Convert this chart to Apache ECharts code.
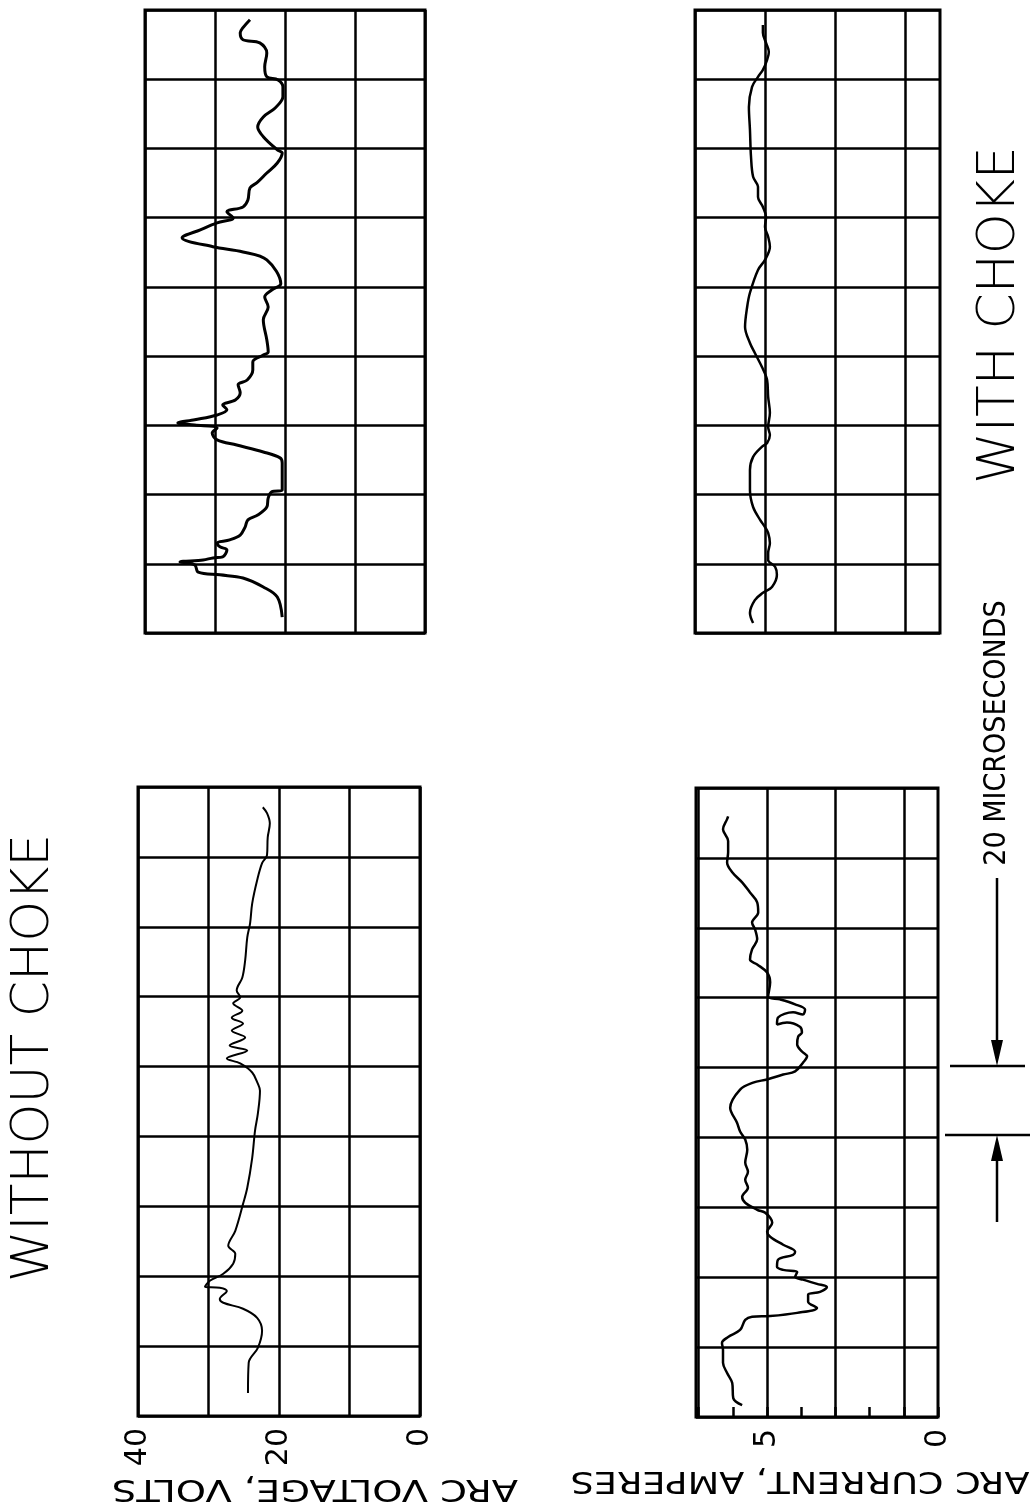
<!DOCTYPE html>
<html><head><meta charset="utf-8">
<script src="https://cdn.jsdelivr.net/npm/echarts@6/dist/echarts.min.js"></script>
<style>html,body{margin:0;padding:0;background:#fff}#c{width:1032px;height:1510px}</style>
</head><body><div id="c"></div>
<script>
// ---- data (time in microseconds along the trace, value at that time) ----
const voltNoChokeTime = [6.6,15.2,19.5,24.4,28.1,30.7,32.4,33.5,35.8,36.7,37.0,38.7,40.7,43.6,46.4,48.7,53.0,60.7,65.3,73.9,81.7,86.5,93.1,95.1,98.3,100.9,102.3,104.6,106.0,108.3,110.3,112.3,114.0,116.0,118.1,119.8,121.8,125.5,130.4,137.0,141.0,146.7,153.3,158.2,160.5,165.6,169.6,172.5,174.2];
const voltNoChokeVolts = [24.4,24.3,23.0,22.4,23.1,25.1,27.9,28.4,27.4,28.4,30.5,29.8,27.9,26.5,26.2,27.2,26.2,25.1,24.5,23.8,23.4,23.0,22.7,23.0,23.8,25.5,27.4,24.5,27.0,24.8,26.7,25.1,26.7,25.2,26.5,25.5,26.0,25.2,24.8,24.5,24.1,23.8,23.1,22.4,21.7,21.6,21.3,21.7,22.3];

const voltChokeTime = [4.6,10.4,13.3,15.9,16.8,17.6,19.7,20.5,21.1,21.7,22.0,24.0,24.9,26.0,26.9,28.3,30.6,32.7,34.1,36.4,39.0,40.8,41.3,44.2,49.1,50.6,52.3,54.3,55.8,57.8,59.2,60.1,60.7,61.6,63.0,64.5,65.9,67.3,69.4,71.7,73.1,76.0,78.3,80.3,81.2,84.7,90.5,94.2,97.1,99.1,100.9,107.8,110.1,111.6,114.2,116.5,118.5,119.9,121.7,123.1,125.1,128.6,130.1,132.9,135.8,138.7,139.6,143.4,146.2,149.1,151.7,154.9,157.8,159.8,160.7,163.6,167.6,170.5,171.4,173.4,174.9,177.2];
const voltChokeVolts = [20.4,21.1,23.1,26.0,29.3,32.4,32.9,35.0,31.7,30.3,28.9,28.3,29.3,29.7,27.9,26.4,25.7,25.3,23.9,22.6,22.4,21.9,20.4,20.4,20.4,20.7,23.1,26.9,29.7,30.4,29.7,32.9,35.3,32.9,29.7,28.3,28.9,27.1,26.4,26.7,25.4,24.6,24.6,23.1,22.4,22.6,23.1,22.4,22.9,21.9,20.6,22.6,26.0,30.3,34.7,32.1,29.7,27.4,28.3,26.0,25.3,25.0,24.0,22.6,21.1,20.4,21.1,23.1,23.9,23.1,21.4,20.3,20.3,21.0,22.6,22.9,22.6,23.6,26.0,26.4,26.0,25.0];

const currNoChokeTime = [3.4,5.4,9.7,12.6,15.5,19.2,21.2,22.9,24.9,27.8,28.7,28.9,29.8,31.2,33.0,35.0,35.8,37.2,38.1,39.3,40.1,41.5,42.1,43.0,45.0,46.4,47.3,49.3,51.6,53.0,55.6,57.0,58.5,59.3,61.3,63.0,65.6,67.9,70.2,72.8,76.5,79.4,81.7,84.2,88.5,93.7,95.7,96.6,98.0,98.9,101.4,103.2,104.6,106.6,108.9,110.0,111.7,112.9,112.3,114.3,115.8,115.2,116.6,118.1,119.5,120.3,124.4,127.2,129.5,130.9,133.8,136.7,139.5,141.5,144.4,147.3,150.1,153.0,155.9,158.7,161.6,164.8,168.2,171.1,171.9];
const currNoChokeAmps = [5.73,5.99,6.02,6.17,6.29,6.29,6.32,6.14,5.79,5.64,5.44,4.91,4.12,3.54,3.80,3.80,3.45,3.25,3.54,3.95,4.18,4.12,4.53,4.71,4.68,4.24,4.18,4.53,4.91,5.00,4.85,4.91,5.06,5.29,5.64,5.73,5.56,5.64,5.56,5.64,5.58,5.64,5.79,5.88,6.08,5.79,5.41,5.00,4.53,4.18,3.95,3.83,3.98,4.12,4.09,3.98,4.04,4.42,4.71,4.68,4.24,3.95,3.89,4.18,4.62,4.97,4.91,5.00,5.29,5.50,5.44,5.29,5.35,5.44,5.26,5.29,5.50,5.73,6.02,6.17,6.14,6.14,6.29,6.17,6.14];

const currChokeTime = [2.9,5.8,9.5,11.6,13.3,16.8,19.1,21.1,23.1,26.0,28.9,30.6,32.7,36.4,41.3,47.1,50.9,53.8,54.9,57.2,59.5,63.6,68.2,73.1,76.9,80.9,83.8,88.4,94.2,98.3,104.9,107.8,111.6,114.5,117.3,120.2,123.1,126.0,128.9,131.8,137.6,145.4,152.0,157.8,160.7,162.7,165.6,167.9,170.5,173.4,175.7];
const currChokeAmps = [5.34,5.43,5.29,5.06,4.80,4.66,4.71,4.91,4.91,4.86,4.91,5.00,5.14,5.34,5.43,5.43,5.34,5.09,4.94,4.86,4.91,4.86,4.91,4.94,5.09,5.29,5.43,5.57,5.51,5.43,5.20,5.00,4.86,4.91,5.00,4.97,5.06,5.20,5.20,5.34,5.40,5.43,5.46,5.37,5.20,5.06,4.94,4.89,4.97,5.06,5.06];

const voltTickLabels = [0, 20, 40];
const currTickLabels = [0, 5];

const zip = (vals, times) => vals.map((v, i) => [v, times[i]]);

const FONT = '"DejaVu Sans", "Liberation Sans", sans-serif';
const gridLine = { show: true, lineStyle: { color: '#000', width: 2.5 } };

function timeAxis(gi) {
  return { type: 'value', gridIndex: gi, min: 0, max: 180, interval: 20,
    axisLine: { show: false }, axisTick: { show: false }, axisLabel: { show: false },
    splitLine: gridLine };
}
function voltAxis(gi, labels) {
  return { type: 'value', gridIndex: gi, min: 0, max: 40, interval: 10, inverse: true,
    axisLine: { show: false }, axisTick: { show: false },
    axisLabel: { show: labels, rotate: 90, margin: 12, fontSize: 30, color: '#000', fontFamily: FONT,
      formatter: v => voltTickLabels.includes(v) ? String(v) : '' },
    splitLine: gridLine };
}
function currAxis(gi, max, labels) {
  return { type: 'value', gridIndex: gi, min: 0, max: max, interval: 1, inverse: true,
    axisLine: { show: false },
    axisTick: { show: labels, inside: true, length: 10, lineStyle: { color: '#000', width: 2.5 } },
    axisLabel: { show: labels, rotate: 90, margin: 12, fontSize: 30, color: '#000', fontFamily: FONT,
      formatter: v => currTickLabels.includes(v) ? String(v) : '' },
    splitLine: { show: true, lineStyle: { color: ['rgba(0,0,0,0)', '#000'], width: 2.5 } } };
}
function trace(gi, data, w) {
  return { type: 'line', xAxisIndex: gi, yAxisIndex: gi, data: data, showSymbol: false,
    smooth: 0.35, lineStyle: { color: '#000', width: w }, animation: false, z: 5 };
}

const chart = echarts.init(document.getElementById('c'), null, { renderer: 'canvas' });
const border = { show: true, borderColor: '#000', borderWidth: 3, backgroundColor: 'transparent' };
chart.setOption({
  animation: false,
  backgroundColor: '#fff',
  grid: [
    Object.assign({ left: 138, top: 787, width: 282, height: 629 }, border),
    Object.assign({ left: 145, top: 10, width: 280, height: 623 }, border),
    Object.assign({ left: 696, top: 788, width: 242, height: 629 }, border),
    Object.assign({ left: 695, top: 10, width: 245, height: 623 }, border)
  ],
  xAxis: [ voltAxis(0, true), voltAxis(1, false), currAxis(2, 7.08, true), currAxis(3, 7, false) ],
  yAxis: [ timeAxis(0), timeAxis(1), timeAxis(2), timeAxis(3) ],
  series: [
    trace(0, zip(voltNoChokeVolts, voltNoChokeTime), 2),
    trace(1, zip(voltChokeVolts, voltChokeTime), 3),
    trace(2, zip(currNoChokeAmps, currNoChokeTime), 2.5),
    trace(3, zip(currChokeAmps, currChokeTime), 2.5)
  ],
  graphic: [
    { type: 'text', x: 34, y: 1058, rotation: Math.PI / 2,
      style: { text: 'WITHOUT CHOKE', font: '200 52px ' + FONT, fill: '#000', textAlign: 'center', textVerticalAlign: 'middle' } },
    { type: 'text', x: 1000, y: 315, rotation: Math.PI / 2,
      style: { text: 'WITH CHOKE', font: '200 52px ' + FONT, fill: '#000', textAlign: 'center', textVerticalAlign: 'middle' } },
    { type: 'text', x: 315, y: 1488, rotation: Math.PI, scaleX: 1.28,
      style: { text: 'ARC VOLTAGE, VOLTS', font: '30px ' + FONT, fill: '#000', textAlign: 'center', textVerticalAlign: 'middle' } },
    { type: 'text', x: 800, y: 1480, rotation: Math.PI, scaleX: 1.22,
      style: { text: 'ARC CURRENT, AMPERES', font: '30px ' + FONT, fill: '#000', textAlign: 'center', textVerticalAlign: 'middle' } },
    { type: 'text', x: 997, y: 733, rotation: Math.PI / 2, scaleX: 0.9,
      style: { text: '20 MICROSECONDS', font: '30px ' + FONT, fill: '#000', textAlign: 'center', textVerticalAlign: 'middle' } },
    { type: 'line', shape: { x1: 950, y1: 1066, x2: 1025, y2: 1066 }, style: { stroke: '#000', lineWidth: 2.5 } },
    { type: 'line', shape: { x1: 945, y1: 1135, x2: 1030, y2: 1135 }, style: { stroke: '#000', lineWidth: 2.5 } },
    { type: 'line', shape: { x1: 997, y1: 878, x2: 997, y2: 1045 }, style: { stroke: '#000', lineWidth: 2.5 } },
    { type: 'polygon', shape: { points: [[997, 1066], [991, 1040], [1003, 1040]] }, style: { fill: '#000' } },
    { type: 'line', shape: { x1: 997, y1: 1222, x2: 997, y2: 1155 }, style: { stroke: '#000', lineWidth: 2.5 } },
    { type: 'polygon', shape: { points: [[997, 1135], [991, 1161], [1003, 1161]] }, style: { fill: '#000' } }
  ]
});
</script>
</body></html>
